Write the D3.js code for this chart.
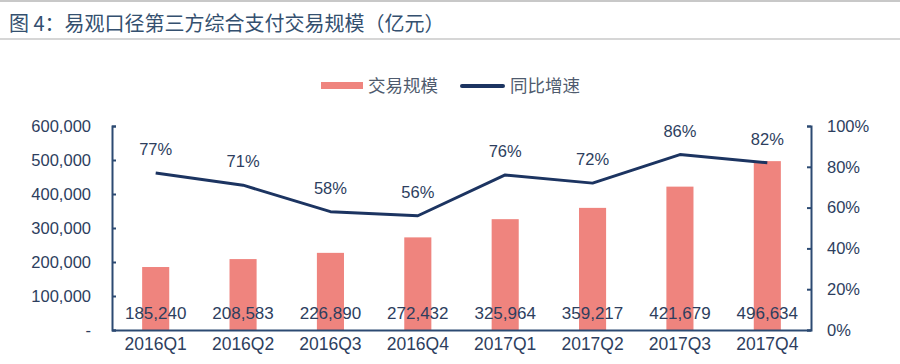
<!DOCTYPE html>
<html><head><meta charset="utf-8">
<script src="https://cdn.jsdelivr.net/npm/d3@7"></script>
<style>
body{margin:0;background:#fff;}
svg{display:block;font-family:"Liberation Sans",Arial,"Noto Sans CJK SC",sans-serif;}
</style></head>
<body>
<svg id="c" width="900" height="364"></svg>
<script>
const categories = ["2016Q1","2016Q2","2016Q3","2016Q4","2017Q1","2017Q2","2017Q3","2017Q4"];
const volume = [185240,208583,226890,272432,325964,359217,421679,496634];
const growth = [77,71,58,56,76,72,86,82];
const leftTicks = [0,100000,200000,300000,400000,500000,600000];
const rightTicks = [0,20,40,60,80,100];
const titleText = "图 4：易观口径第三方综合支付交易规模（亿元）";
const legendLabels = ["交易规模","同比增速"];

const svg = d3.select("#c");
const axisColor = "#2c4a72", textColor = "#2d3e5e", barColor = "#ef847e", lineColor = "#1c3461";
const cjk = '"Noto Sans CJK SC",sans-serif';
const latin = '"Liberation Sans",Arial,sans-serif';

// title
svg.append("line").attr("x1",0).attr("x2",900).attr("y1",1).attr("y2",1).attr("stroke","#c8c8c8").attr("stroke-width",2);
svg.append("text").attr("x",9).attr("y",31).text(titleText)
  .attr("font-size",20).attr("fill","#34506f").attr("font-family",cjk);
svg.append("line").attr("x1",0).attr("x2",900).attr("y1",39).attr("y2",39).attr("stroke","#c8c8c8").attr("stroke-width",1.5);

const L = 112, R = 811, T = 126, B = 330;
const x = d3.scaleBand().domain(categories).range([L,R]).paddingInner(0.69).paddingOuter(0.345);
const yL = d3.scaleLinear().domain([0,600000]).range([B,T]);
const yR = d3.scaleLinear().domain([0,100]).range([B,T]);

// bars
svg.append("g").selectAll("rect").data(volume).join("rect")
  .attr("x",(d,i)=>x(categories[i])).attr("width",x.bandwidth())
  .attr("y",d=>yL(d)).attr("height",d=>B-yL(d)).attr("fill",barColor);

// value labels
svg.append("g").selectAll("text").data(volume).join("text")
  .attr("x",(d,i)=>x(categories[i])+x.bandwidth()/2).attr("y",B-11)
  .attr("text-anchor","middle").attr("font-size",17).attr("fill",textColor).attr("font-family",latin)
  .text(d=>d3.format(",")(d));

// line
const line = d3.line().x((d,i)=>x(categories[i])+x.bandwidth()/2).y(d=>yR(d));
svg.append("path").datum(growth).attr("d",line).attr("fill","none")
  .attr("stroke",lineColor).attr("stroke-width",3).attr("stroke-linejoin","round");
svg.append("g").selectAll("text").data(growth).join("text")
  .attr("x",(d,i)=>x(categories[i])+x.bandwidth()/2).attr("y",d=>yR(d)-18)
  .attr("text-anchor","middle").attr("font-size",16.5).attr("fill",textColor).attr("font-family",latin)
  .text(d=>d+"%");

// left axis
const gl = svg.append("g").attr("transform",`translate(${L},0)`)
  .call(d3.axisLeft(yL).tickValues(leftTicks).tickSize(-4).tickPadding(21)
    .tickFormat(d=>d===0?"-":d3.format(",")(d)));
// right axis
const gr = svg.append("g").attr("transform",`translate(${R},0)`)
  .call(d3.axisRight(yR).tickValues(rightTicks).tickSize(-4).tickPadding(16).tickFormat(d=>d+"%"));
[gl,gr].forEach(g=>{
  g.select(".domain").attr("stroke",axisColor).attr("stroke-width",2);
  g.selectAll(".tick line").attr("stroke",axisColor).attr("stroke-width",2);
  g.selectAll(".tick text").attr("fill",textColor).attr("font-size",16.5).attr("font-family",latin);
});
// x axis
const gx = svg.append("g").attr("transform",`translate(0,${B})`)
  .call(d3.axisBottom(x).tickSize(0).tickPadding(8));
gx.select(".domain").attr("stroke",axisColor).attr("stroke-width",2);
gx.selectAll(".tick text").attr("fill",textColor).attr("font-size",17.5).attr("font-family",latin);

// legend
const lg = svg.append("g");
lg.append("rect").attr("x",321).attr("y",82).attr("width",42).attr("height",7).attr("fill",barColor);
lg.append("text").attr("x",368).attr("y",92).text(legendLabels[0]).attr("font-size",17.5).attr("fill","#4f5b6e").attr("font-family",cjk);
lg.append("line").attr("x1",462).attr("x2",503).attr("y1",86).attr("y2",86).attr("stroke",lineColor).attr("stroke-width",4).attr("stroke-linecap","round");
lg.append("text").attr("x",510).attr("y",92).text(legendLabels[1]).attr("font-size",17.5).attr("fill","#4f5b6e").attr("font-family",cjk);
</script>
</body></html>
